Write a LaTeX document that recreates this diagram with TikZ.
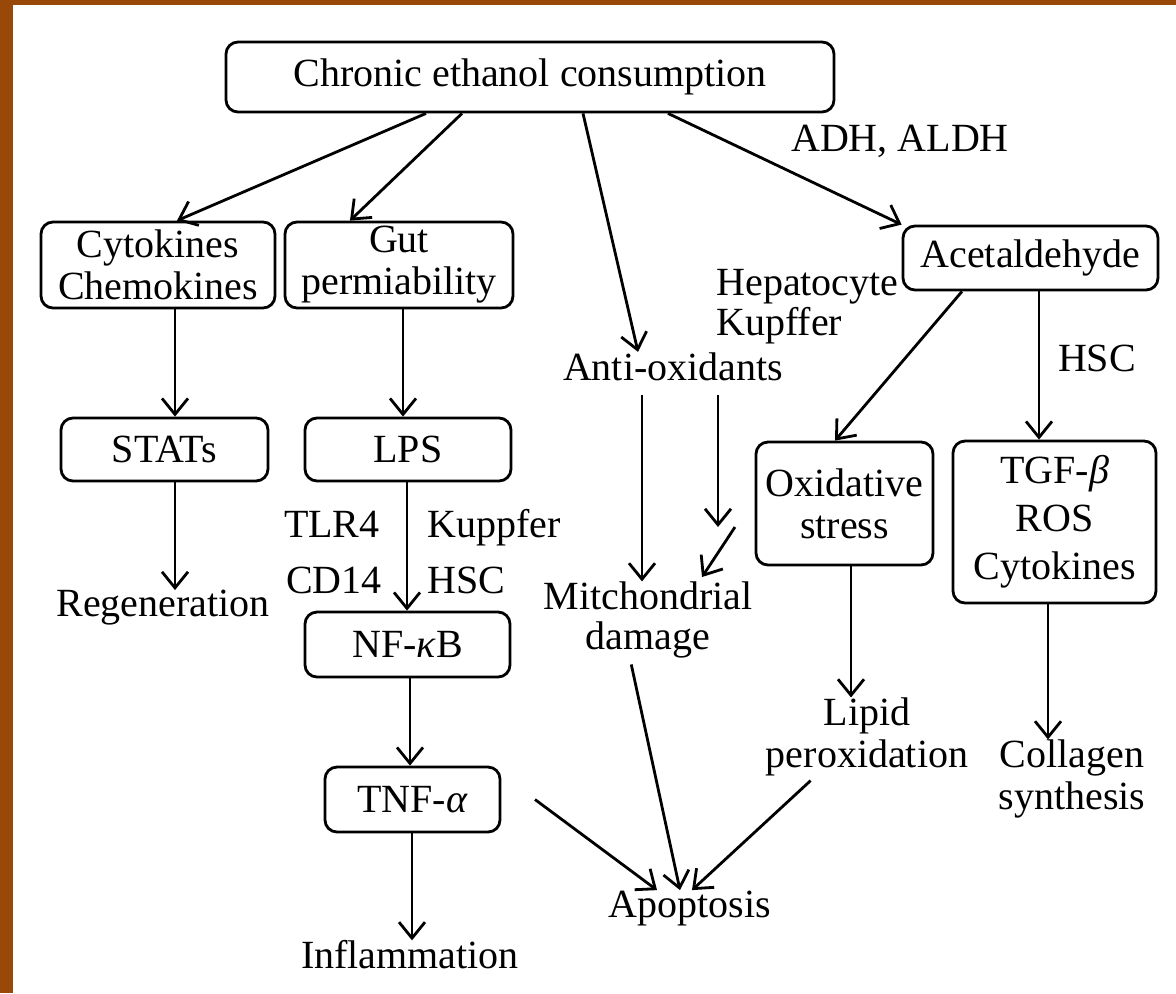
\documentclass[tikz,border=0pt]{standalone}
\usepackage{fontspec}
\setmainfont{Liberation Serif}
\usetikzlibrary{arrows.meta}
\definecolor{framebrown}{RGB}{152,72,8}
\begin{document}
\begin{tikzpicture}[x=0.5pt,y=-0.5pt,
  every node/.style={font=\fontsize{20}{21}\selectfont},
  box/.style={draw, line width=1.4pt, rounded corners=6pt, align=center, inner sep=0pt},
  lbl/.style={align=center, inner sep=0pt},
  arr/.style={line width=1.4pt, -{Straight Barb[length=8pt,width=13pt]}}]
\useasboundingbox (0,0) rectangle (1176,993);
\fill[white] (0,0) rectangle (1176,993);
\fill[framebrown] (0,0) rectangle (13,993);
\fill[framebrown] (0,0) rectangle (1176,5);

% boxes
\node[box, minimum width=304pt, minimum height=35pt] (top) at (530,77) {Chronic ethanol consumption};
\node[box, minimum width=117pt, minimum height=43pt] (cyto) at (158,265) {Cytokines\\Chemokines};
\node[box, minimum width=114pt, minimum height=43pt] (gut) at (399,265) {Gut\\permiability};
\node[box, minimum width=127.5pt, minimum height=32pt] (acet) at (1030.5,258) {Acetaldehyde};
\node[box, minimum width=103.5pt, minimum height=31.5pt] (stats) at (164.5,449.5) {STATs};
\node[box, minimum width=103pt, minimum height=31.5pt] (lps) at (408,449.5) {LPS};
\node[box, minimum width=102.5pt, minimum height=32.5pt] (nfkb) at (407.5,644.5) {NF-\textit{κ}B};
\node[box, minimum width=87.5pt, minimum height=32.5pt] (tnf) at (412.5,799.5) {TNF-\textit{α}};
\node[box, minimum width=88.5pt, minimum height=61.5pt] (oxi) at (844.5,503.5) {Oxidative\\stress};
\node[box, minimum width=101.5pt, minimum height=81pt, font=\fontsize{20}{24}\selectfont] (tgf) at (1054.5,522) {TGF-\textit{β}\\ROS\\Cytokines};

% plain labels
\node[lbl] (adh) at (900,141) {ADH, ALDH};
\node[lbl, anchor=base west] (hep) at (716,295) {Hepatocyte};
\node[lbl, anchor=base west] (kup1) at (716,335) {Kupffer};
\node[lbl] (hsc1) at (1097,358) {HSC};
\node[lbl, anchor=base east] (tlr) at (380,537) {TLR4};
\node[lbl, anchor=base east] (cd) at (382,593) {CD14};
\node[lbl, anchor=base west] (kup2) at (427,537) {Kuppfer};
\node[lbl, anchor=base west] (hsc2) at (427,593) {HSC};
\node[lbl, anchor=base] (anti) at (673,380) {Anti-oxidants};
\node[lbl] (regen) at (163,608) {Regeneration};
\node[lbl] (inflam) at (410,955) {Inflammation};
\node[lbl, font=\fontsize{20}{20}\selectfont] (mito) at (648,620) {Mitchondrial\\damage};
\node[lbl] (lipid) at (867,737) {Lipid\\peroxidation};
\node[lbl] (coll) at (1072,779) {Collagen\\synthesis};
\node[lbl] (apop) at (690,908) {Apoptosis};

\coordinate (c1) at (718,527);
\coordinate (c2) at (735,527);
\coordinate (c3) at (702,577);

% connectors
\draw[arr] (426,0 |- top.south) -- (177,0 |- cyto.north);
\draw[arr] (462,0 |- top.south) -- (350,0 |- gut.north);
\draw[arr] (583,0 |- top.south) -- (638,0 |- anti.north);
\draw[arr] (668,0 |- top.south) -- (acet.north west);
\draw[arr] (175,0 |- cyto.south) -- (175,0 |- stats.north);
\draw[arr] (175,0 |- stats.south) -- (175,0 |- regen.north);
\draw[arr] (403,0 |- gut.south) -- (403,0 |- lps.north);
\draw[arr] (407,0 |- lps.south) -- (407,0 |- nfkb.north);
\draw[arr] (410,0 |- nfkb.south) -- (410,0 |- tnf.north);
\draw[arr] (412,0 |- tnf.south) -- (412,0 |- inflam.north);
\draw[arr, shorten <=7pt] (642,0 |- anti.south) -- (642,0 |- mito.north);
\draw[arr, shorten <=7pt] (718,0 |- anti.south) -- (c1);
\draw[arr] (c2) -- (c3);
\draw[arr, shorten <=3pt] (630,0 |- mito.south) -- (680,0 |- apop.north);
\draw[arr] (535,0 |- tnf.east) -- (657,0 |- apop.north);
\draw[arr, shorten <=3pt] (815,0 |- lipid.south) -- (692,0 |- apop.north);
\draw[arr] (962,0 |- acet.south) -- (835,0 |- oxi.north);
\draw[arr] (1039,0 |- acet.south) -- (1039,0 |- tgf.north);
\draw[arr] (851,0 |- oxi.south) -- (851,0 |- lipid.north);
\draw[arr] (1048,0 |- tgf.south) -- (1048,0 |- coll.north);
\end{tikzpicture}
\end{document}
